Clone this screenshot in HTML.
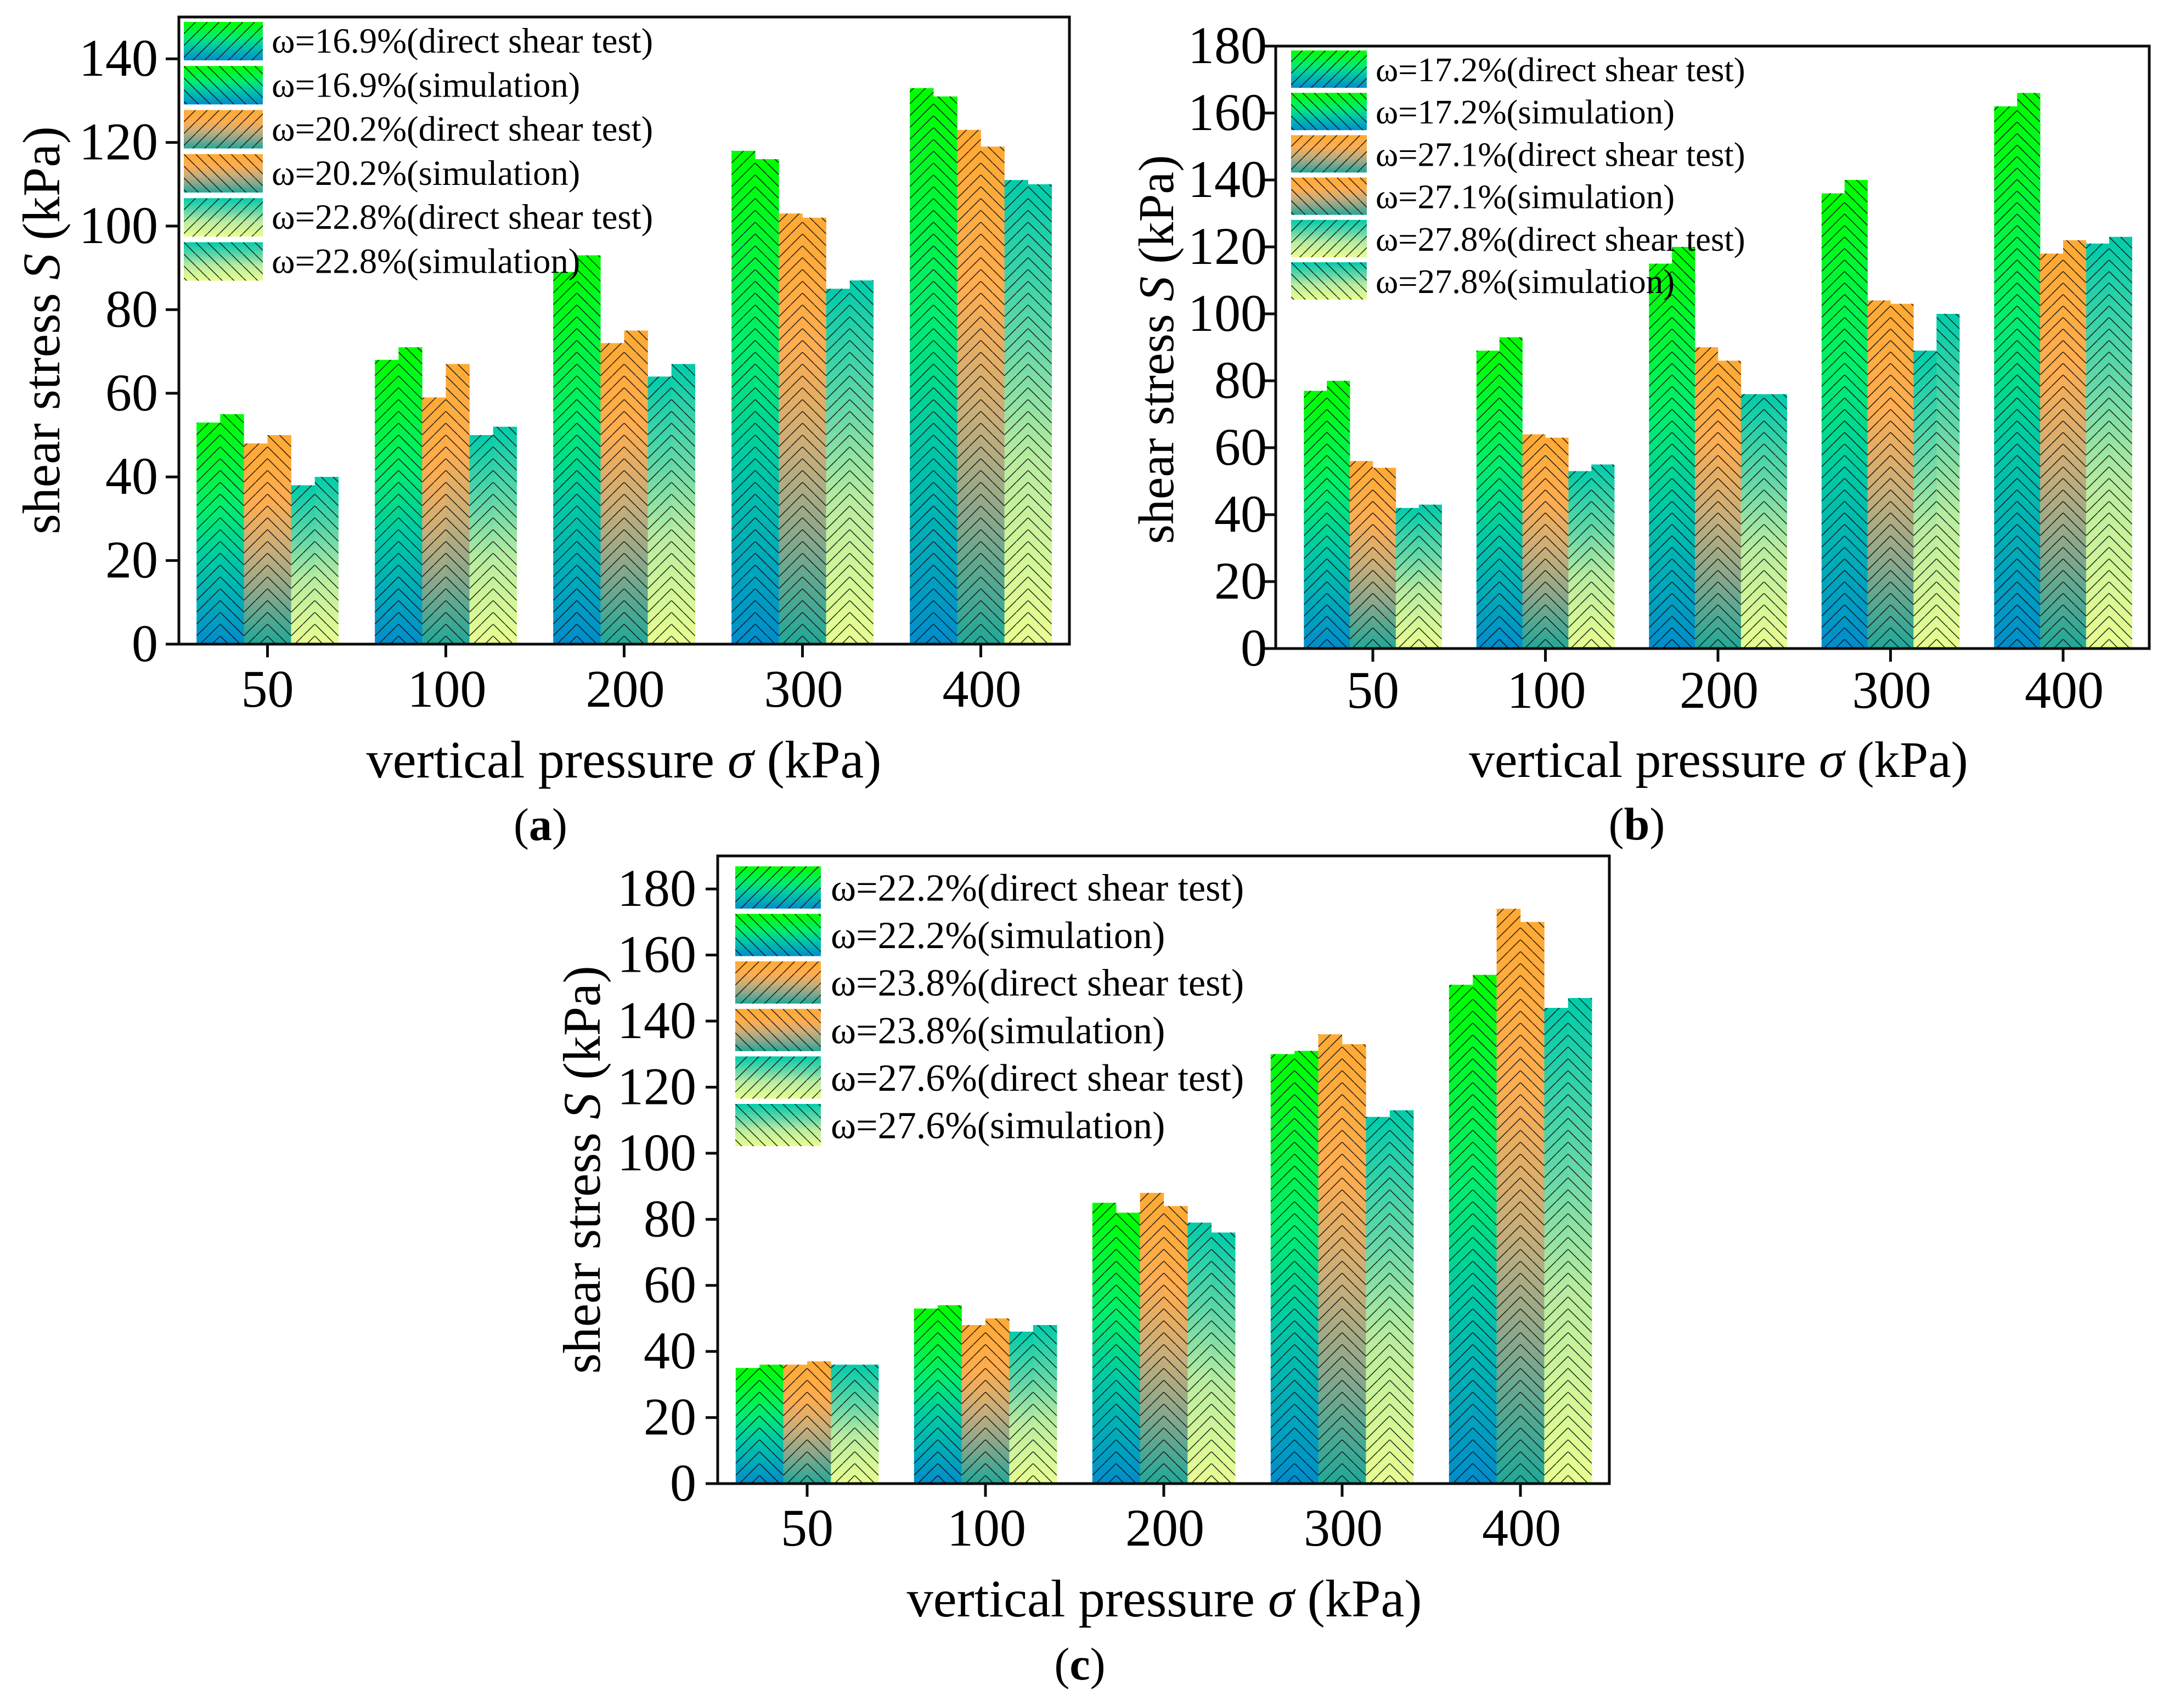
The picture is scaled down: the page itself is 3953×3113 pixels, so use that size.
<!DOCTYPE html>
<html lang="en">
<head>
<meta charset="utf-8">
<title>Shear stress vs vertical pressure</title>
<style>
html,body{margin:0;padding:0;background:#fff;}
svg{display:block;}
text{font-family:"Liberation Serif","Times New Roman",serif;fill:#000;}
</style>
</head>
<body>
<svg id="figure" xmlns="http://www.w3.org/2000/svg" width="3953" height="3113" viewBox="0 0 3953 3113">
<defs>
<linearGradient id="grad-green" x1="0" y1="0" x2="0" y2="1">
<stop offset="0" stop-color="#00ff00"/><stop offset="0.4" stop-color="#00ee6e"/><stop offset="0.62" stop-color="#00cba5"/><stop offset="0.8" stop-color="#00aeb8"/><stop offset="1" stop-color="#008ccc"/>
</linearGradient>
<linearGradient id="grad-orange" x1="0" y1="0" x2="0" y2="1">
<stop offset="0" stop-color="#ffaa33"/><stop offset="0.3" stop-color="#ffad50"/><stop offset="0.55" stop-color="#c8ae7a"/><stop offset="0.75" stop-color="#8aa88c"/><stop offset="1" stop-color="#20a898"/>
</linearGradient>
<linearGradient id="grad-teal" x1="0" y1="0" x2="0" y2="1">
<stop offset="0" stop-color="#00ccaa"/><stop offset="0.35" stop-color="#66d8a8"/><stop offset="0.6" stop-color="#b8eca0"/><stop offset="1" stop-color="#e8ff90"/>
</linearGradient>
</defs>
</svg>
<script>
// Shared categories
const categories = ['50', '100', '200', '300', '400'];

// Panel (a) data
const ticksA = [0, 20, 40, 60, 80, 100, 120, 140];
const a169Test = [53, 68, 89, 118, 133];
const a169Sim = [55, 71, 93, 116, 131];
const a202Test = [48, 59, 72, 103, 123];
const a202Sim = [50, 67, 75, 102, 119];
const a228Test = [38, 50, 64, 85, 111];
const a228Sim = [40, 52, 67, 87, 110];
const legendA = ['16.9', '20.2', '22.8'];

// Panel (b) data
const ticksB = [0, 20, 40, 60, 80, 100, 120, 140, 160, 180];
const b172Test = [77, 89, 115, 136, 162];
const b172Sim = [80, 93, 120, 140, 166];
const b271Test = [56, 64, 90, 104, 118];
const b271Sim = [54, 63, 86, 103, 122];
const b278Test = [42, 53, 76, 89, 121];
const b278Sim = [43, 55, 76, 100, 123];
const legendB = ['17.2', '27.1', '27.8'];

// Panel (c) data
const ticksC = [0, 20, 40, 60, 80, 100, 120, 140, 160, 180];
const c222Test = [35, 53, 85, 130, 151];
const c222Sim = [36, 54, 82, 131, 154];
const c238Test = [36, 48, 88, 136, 174];
const c238Sim = [37, 50, 84, 133, 170];
const c276Test = [36, 46, 79, 111, 144];
const c276Sim = [36, 48, 76, 113, 147];
const legendC = ['22.2', '23.8', '27.6'];

const SVGNS = 'http://www.w3.org/2000/svg';
const root = document.getElementById('figure');
const defs = root.querySelector('defs');
const gradients = ['grad-green', 'grad-orange', 'grad-teal'];
let patternCount = 0;

function make(parent, tag, attrs) {
  const node = document.createElementNS(SVGNS, tag);
  for (const key in attrs) node.setAttribute(key, attrs[key]);
  parent.appendChild(node);
  return node;
}

function hatchPattern(direction, period, originX, originY) {
  patternCount += 1;
  const id = 'hatch-' + patternCount;
  const pattern = make(defs, 'pattern', {
    id: id, patternUnits: 'userSpaceOnUse', width: period, height: period,
    patternTransform: 'translate(' + originX + ' ' + originY + ')'
  });
  const d = direction > 0
    ? 'M-2 ' + (period + 2) + 'L' + (period + 2) + ' -2'
    : 'M-2 -2L' + (period + 2) + ' ' + (period + 2);
  make(pattern, 'path', { d: d, stroke: '#111', 'stroke-width': 1.4, fill: 'none' });
  return 'url(#' + id + ')';
}

function drawPanel(cfg) {
  const g = make(root, 'g', {});
  
  

  const yScale = function (v) { return cfg.base - v / cfg.yMax * (cfg.base - cfg.top); };
  const xScale = function (i) { return cfg.xFirst + i * cfg.xStep; };

  // bars
  const barsGroup = make(g, 'g', {});
  
  
  categories.forEach(function (cat, i) {
    const left = xScale(i) - 3 * cfg.barW;
    const apexY = cfg.base - cfg.hatchOffset;
    const hatchUp = hatchPattern(1, cfg.barW / 2, left, apexY);
    const hatchDown = hatchPattern(-1, cfg.barW / 2, left, apexY);
    cfg.series.forEach(function (values, s) {
      const x = left + s * cfg.barW;
      const y = yScale(values[i]);
      const h = cfg.base - y;
      const bar = make(barsGroup, 'rect', { x: x, y: y, width: cfg.barW + 0.3, height: h, fill: 'url(#' + gradients[Math.floor(s / 2)] + ')' });
      
      
      const hatch = make(barsGroup, 'rect', { x: x, y: y, width: cfg.barW, height: h, fill: s % 2 === 0 ? hatchUp : hatchDown });
      
      
    });
  });

  // frame
  const frame = make(g, 'rect', { x: cfg.left, y: cfg.top, width: cfg.right - cfg.left, height: cfg.base - cfg.top, fill: 'none', stroke: '#0c0c0c', 'stroke-width': 5 });
  
  

  // y ticks
  cfg.yTicks.forEach(function (v) {
    const y = yScale(v);
    const tick = make(g, 'line', { x1: cfg.left - cfg.tickLen, x2: cfg.left, y1: y, y2: y, stroke: '#0c0c0c', 'stroke-width': 5 });
    
    
    const label = make(g, 'text', { x: cfg.yLabelX, y: y + 31, 'text-anchor': 'end', 'font-size': 96 });
    label.textContent = String(v);
    
    
  });

  // x ticks
  categories.forEach(function (cat, i) {
    const x = xScale(i);
    const tick = make(g, 'line', { x1: x, x2: x, y1: cfg.base, y2: cfg.base + 24, stroke: '#0c0c0c', 'stroke-width': 5 });
    
    
    const label = make(g, 'text', { x: x + (i === 0 ? 0 : 2), y: cfg.xTickY, 'text-anchor': 'middle', 'font-size': 96 });
    label.textContent = cat;
    
    
  });

  // axis titles
  const xTitle = make(g, 'text', { x: cfg.xTitleX, y: cfg.xTitleY, 'text-anchor': 'middle', 'font-size': cfg.xTitleSize });
  
  
  xTitle.appendChild(document.createTextNode('vertical pressure '));
  const sigma = make(xTitle, 'tspan', { 'font-style': 'italic' });
  sigma.textContent = 'σ';
  xTitle.appendChild(document.createTextNode(' (kPa)'));

  const yTitle = make(g, 'text', { transform: 'translate(' + cfg.yTitleX + ' ' + cfg.yTitleY + ') rotate(-90)', 'text-anchor': 'middle', 'font-size': cfg.yTitleSize });
  
  
  yTitle.appendChild(document.createTextNode('shear stress '));
  const ess = make(yTitle, 'tspan', { 'font-style': 'italic' });
  ess.textContent = 'S';
  yTitle.appendChild(document.createTextNode(' (kPa)'));

  // legend
  const legend = make(g, 'g', {});
  
  
  cfg.legend.forEach(function (moisture, m) {
    ['direct shear test', 'simulation'].forEach(function (kind, k) {
      const row = m * 2 + k;
      const y = cfg.legY + row * cfg.legPitch;
      const fill = make(legend, 'rect', { x: cfg.legX, y: y, width: cfg.legW, height: cfg.legH, fill: 'url(#' + gradients[m] + ')' });
      
      
      const hatch = make(legend, 'rect', { x: cfg.legX, y: y, width: cfg.legW, height: cfg.legH, fill: hatchPattern(k === 0 ? 1 : -1, cfg.barW / 2, cfg.legX, y) });
      
      
      const label = make(legend, 'text', { x: cfg.legTextX, y: y + cfg.legH / 2 + cfg.legBaseline, 'font-size': cfg.legFont });
      label.textContent = 'ω=' + moisture + '%(' + kind + ')';
      
      
    });
  });

  // caption
  const caption = make(g, 'text', { x: cfg.capX, y: cfg.capY, 'text-anchor': 'middle', 'font-size': 84 });
  
  
  caption.appendChild(document.createTextNode('('));
  const letter = make(caption, 'tspan', { 'font-weight': 'bold' });
  letter.textContent = cfg.key;
  caption.appendChild(document.createTextNode(')'));
}

drawPanel({
  key: 'a', left: 326, right: 1949, top: 31, base: 1174, yMax: 150, yTicks: ticksA,
  xFirst: 487.5, xStep: 325, barW: 43.1, tickLen: 24, hatchOffset: 15, yLabelX: 288, xTickY: 1288,
  xTitleX: 1137, xTitleY: 1417, xTitleSize: 96.4, yTitleX: 108, yTitleY: 602, yTitleSize: 96,
  legX: 335, legY: 40, legW: 144, legH: 70, legPitch: 80.3, legTextX: 495, legFont: 64.7, legBaseline: 21,
  capX: 985, capY: 1531, legend: legendA,
  series: [a169Test, a169Sim, a202Test, a202Sim, a228Test, a228Sim]
});

drawPanel({
  key: 'b', left: 2325, right: 3917, top: 84, base: 1182, yMax: 180, yTicks: ticksB,
  xFirst: 2502, xStep: 314.5, barW: 41.9, tickLen: 20, hatchOffset: 17, yLabelX: 2309, xTickY: 1290,
  xTitleX: 3132, xTitleY: 1416, xTitleSize: 93.4, yTitleX: 2138, yTitleY: 637, yTitleSize: 91.5,
  legX: 2353, legY: 92, legW: 138, legH: 68, legPitch: 77.2, legTextX: 2507, legFont: 62.7, legBaseline: 22,
  capX: 2983, capY: 1530, legend: legendB,
  series: [b172Test, b172Sim, b271Test, b271Sim, b278Test, b278Sim]
});

drawPanel({
  key: 'c', left: 1308, right: 2933, top: 1560, base: 2704, yMax: 190, yTicks: ticksC,
  xFirst: 1471, xStep: 325, barW: 43.4, tickLen: 22, hatchOffset: 15, yLabelX: 1269, xTickY: 2817,
  xTitleX: 2122, xTitleY: 2946, xTitleSize: 96.4, yTitleX: 1093, yTitleY: 2132, yTitleSize: 96,
  legX: 1340, legY: 1579, legW: 156, legH: 77, legPitch: 86.6, legTextX: 1514, legFont: 70.1, legBaseline: 24,
  capX: 1968, capY: 3061, legend: legendC,
  series: [c222Test, c222Sim, c238Test, c238Sim, c276Test, c276Sim]
});
</script>
</body>
</html>
